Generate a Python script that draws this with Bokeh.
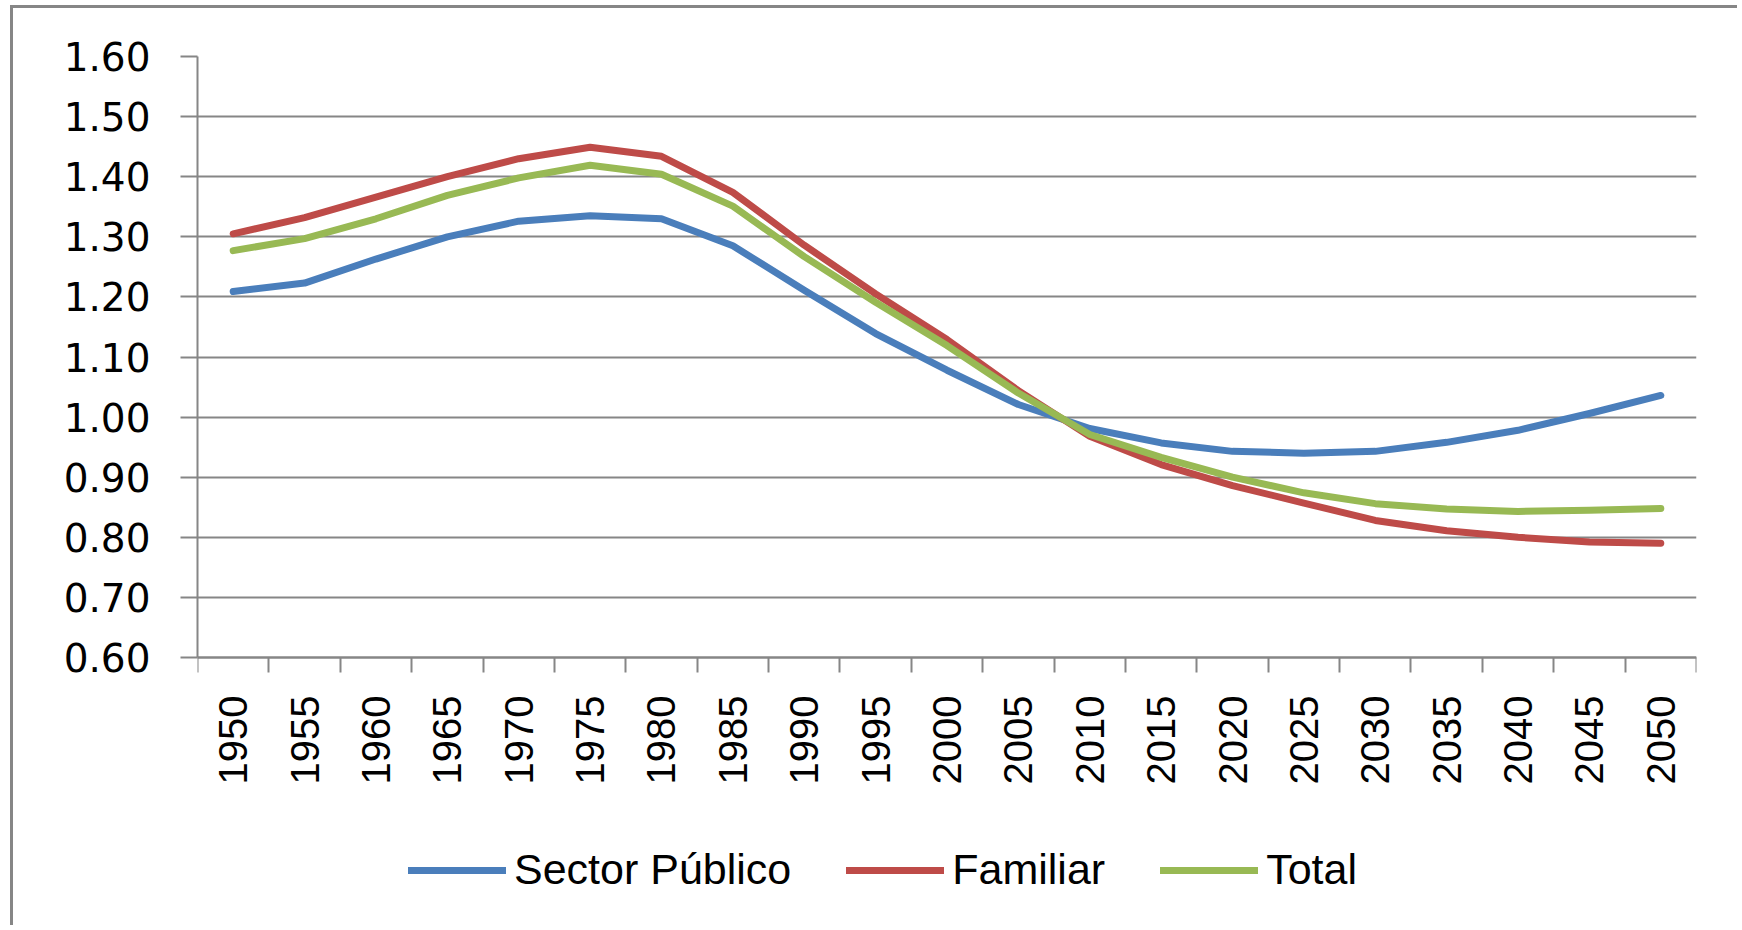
import math
from bokeh.plotting import figure
from bokeh.models import (Range1d, FixedTicker, Legend, LegendItem, ColumnDataSource)
from bokeh.embed import file_html
from bokeh.resources import INLINE

years = [1950, 1955, 1960, 1965, 1970, 1975, 1980, 1985, 1990, 1995, 2000,
         2005, 2010, 2015, 2020, 2025, 2030, 2035, 2040, 2045, 2050]
year_labels = [str(y) for y in years]

sector_publico = [1.209, 1.223, 1.263, 1.300, 1.326, 1.335, 1.330, 1.285, 1.211, 1.139, 1.078,
                  1.021, 0.981, 0.957, 0.943, 0.940, 0.943, 0.958, 0.978, 1.006, 1.036]
familiar = [1.305, 1.332, 1.366, 1.400, 1.430, 1.449, 1.434, 1.374, 1.286, 1.205, 1.129,
            1.044, 0.968, 0.921, 0.886, 0.857, 0.828, 0.811, 0.800, 0.792, 0.790]
total = [1.277, 1.297, 1.330, 1.369, 1.398, 1.419, 1.404, 1.351, 1.267, 1.191, 1.119,
         1.040, 0.971, 0.933, 0.900, 0.874, 0.856, 0.847, 0.843, 0.845, 0.848]

series_names = ["Sector Público", "Familiar", "Total"]
series_colors = ["#4A7EBB", "#BE4B48", "#98B954"]

y_ticks = [0.6, 0.7, 0.8, 0.9, 1.0, 1.1, 1.2, 1.3, 1.4, 1.5, 1.6]
y_tick_labels = ["0.60", "0.70", "0.80", "0.90", "1.00", "1.10", "1.20", "1.30", "1.40", "1.50", "1.60"]

GRAY = "#868686"

# layout (pixels)
W, H = 1727, 920
BORDER_L, BORDER_R, BORDER_T, BORDER_B = 184, 44, 48, 2
PX_PER_UNIT = 601.0          # vertical pixels per 1.0 on the value axis
frame_h = H - BORDER_T - BORDER_B
y_top = y_ticks[-1]
y_bottom = y_top - frame_h / PX_PER_UNIT   # extra room below 0.60 for labels + legend

p = figure(width=W, height=H, output_backend="svg", toolbar_location=None,
           x_range=Range1d(years[0] - 2.5, years[-1] + 2.5),
           y_range=Range1d(y_bottom, y_top),
           min_border_left=BORDER_L, min_border_right=BORDER_R,
           min_border_top=BORDER_T, min_border_bottom=BORDER_B,
           margin=(5, 0, 0, 10))
p.styles = {"border-left": "3px solid " + GRAY, "border-top": "3px solid " + GRAY}
p.outline_line_color = None
p.background_fill_color = "white"
p.border_fill_color = "white"

# x axis drawn at value 0.60; labels at category centres, ticks at boundaries
xa = p.xaxis[0]
xa.fixed_location = y_ticks[0]
boundaries = [y - 2.5 for y in years] + [years[-1] + 2.5]
xa.ticker = FixedTicker(ticks=years, minor_ticks=boundaries)
xa.major_label_overrides = {y: l for y, l in zip(years, year_labels)}
xa.major_label_orientation = math.pi / 2
xa.major_tick_out = 0
xa.major_tick_in = 0
xa.minor_tick_out = 15
xa.minor_tick_in = 0
xa.minor_tick_line_color = GRAY
xa.minor_tick_line_width = 2
xa.axis_line_color = GRAY
xa.axis_line_width = 2
xa.major_label_standoff = 23
xa.major_label_text_font = "Liberation Sans"
xa.major_label_text_font_size = "40px"
xa.major_label_text_color = "black"

ya = p.yaxis[0]
ya.bounds = (y_ticks[0], y_ticks[-1])
ya.ticker = FixedTicker(ticks=y_ticks, minor_ticks=[])
ya.major_label_overrides = {t: l for t, l in zip(y_ticks, y_tick_labels)}
ya.major_tick_out = 17
ya.major_tick_in = 0
ya.major_tick_line_color = GRAY
ya.major_tick_line_width = 2
ya.minor_tick_line_color = None
ya.axis_line_color = GRAY
ya.axis_line_width = 2
ya.major_label_standoff = 30
ya.major_label_text_font = "DejaVu Sans"
ya.major_label_text_font_size = "39px"
ya.major_label_text_color = "black"

p.xgrid.grid_line_color = None
p.ygrid.ticker = FixedTicker(ticks=y_ticks)
p.ygrid.grid_line_color = GRAY
p.ygrid.grid_line_width = 2

src = ColumnDataSource(dict(x=years, sp=sector_publico, fa=familiar, to=total))
items = []
for col, name, color in zip(["sp", "fa", "to"], series_names, series_colors):
    r = p.line("x", col, source=src, line_color=color, line_width=7,
               line_cap="round", line_join="round")
    items.append(LegendItem(label=name, renderers=[r]))

legend = Legend(items=items, orientation="horizontal", location=(211, 32),
                glyph_width=98, glyph_height=40, label_standoff=8, spacing=55,
                padding=0, margin=0, border_line_color=None,
                background_fill_alpha=0,
                label_text_font="Liberation Sans", label_text_font_size="43px",
                label_text_color="black", label_height=40)
p.add_layout(legend, "center")

open("out.html", "w").write(file_html(p, INLINE))
